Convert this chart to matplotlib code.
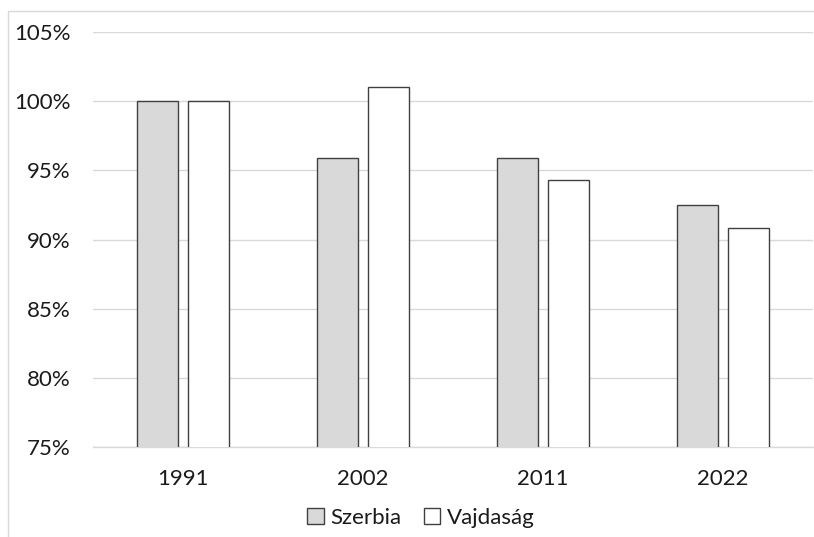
import matplotlib
matplotlib.use("Agg")
import matplotlib.pyplot as plt
import numpy as np
from matplotlib.patches import Rectangle

plt.rcParams['font.family'] = ['Lato', 'DejaVu Sans']

categories = ["1991", "2002", "2011", "2022"]
szerbia = [100.0, 95.9, 95.9, 92.5]
vajdasag = [100.0, 101.0, 94.3, 90.8]
yticks = [75, 80, 85, 90, 95, 100, 105]

W, H = 814, 537
fig = plt.figure(figsize=(W/100, H/100), dpi=100)
ax = fig.add_axes([93/W, 1 - 447/H, 720/W, (447-32)/H])

x = np.arange(len(categories))
bw = 0.228
off = 0.142
ax.bar(x - off, szerbia, bw, color='#d9d9d9', edgecolor='#404040', linewidth=1.0, label='Szerbia', zorder=3)
ax.bar(x + off, vajdasag, bw, color='white', edgecolor='#404040', linewidth=1.0, label='Vajdaság', zorder=3)

ax.set_xlim(-0.5, 3.5)
ax.set_ylim(75, 105)
ax.set_yticks(yticks)
ax.set_yticklabels([f"{v}%" for v in yticks], fontsize=16, color='#1a1a1a')
ax.set_xticks(x)
ax.set_xticklabels(categories, fontsize=16, color='#1a1a1a')
ax.tick_params(axis='both', length=0)
ax.tick_params(axis='y', pad=16)
ax.tick_params(axis='x', pad=16)
ax.yaxis.grid(True, color='#d9d9d9', linewidth=1.0, zorder=0)
for s in ['top', 'right', 'left']:
    ax.spines[s].set_visible(False)
ax.spines['bottom'].set_color('#d9d9d9')
ax.spines['bottom'].set_linewidth(1.0)

leg = fig.legend(loc='center', bbox_to_anchor=(421/W, 1 - 518/H), ncol=2, frameon=False,
                 fontsize=16, handlelength=0.75, handleheight=0.75, handletextpad=0.3,
                 columnspacing=1.0)
for t in leg.get_texts():
    t.set_color('#1a1a1a')

fig.patches.append(Rectangle((8/W, -0.1), 1.2, 1 - 11/H + 0.1, transform=fig.transFigure,
                             fill=False, edgecolor='#d9d9d9', linewidth=1.0))

fig.savefig('out.png', dpi=100)
